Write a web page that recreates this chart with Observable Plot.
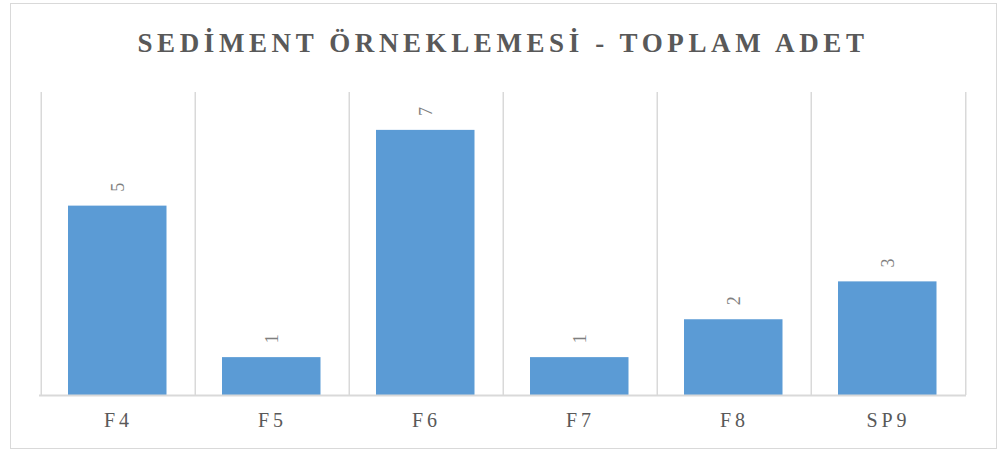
<!DOCTYPE html>
<html>
<head>
<meta charset="utf-8">
<script src="https://cdn.jsdelivr.net/npm/d3@7"></script>
<script src="https://cdn.jsdelivr.net/npm/@observablehq/plot@0.6"></script>
<style>
  html, body { margin: 0; padding: 0; background: #fff; }
  #wrap { position: relative; width: 1002px; height: 453px; }
  #border { position: absolute; left: 10px; top: 3px; width: 985px; height: 444px; border: 1.5px solid #d9d9d9; pointer-events: none; }
  .title text { letter-spacing: 4.6px; }
  .xaxis text { letter-spacing: 4px; }
</style>
</head>
<body>
<div id="wrap"><div id="border"></div></div>
<script>
const categories = ["F4", "F5", "F6", "F7", "F8", "SP9"];
const values = [5, 1, 7, 1, 2, 3];
const titleText = "SEDİMENT ÖRNEKLEMESİ - TOPLAM ADET";
const yMax = 8;

const data = categories.map((c, i) => ({cat: c, value: values[i]}));

const W = 1002, H = 453;
const mL = 39, mR = 36, mT = 92, mB = 58;
const bw = (W - mL - mR) / categories.length;

const chart = Plot.plot({
  width: W,
  height: H,
  marginLeft: mL,
  marginRight: mR,
  marginTop: mT,
  marginBottom: mB,
  style: {fontFamily: "'Liberation Serif', 'Times New Roman', serif", background: "transparent", color: "#595959"},
  x: {domain: categories, paddingInner: 0, paddingOuter: 0, label: null},
  y: {domain: [0, yMax], axis: null},
  marks: [
    Plot.ruleX(categories, {x: d => d, dx: -bw / 2, stroke: "#d9d9d9", strokeWidth: 1.5, strokeOpacity: 1}),
    Plot.ruleX(categories.slice(-1), {x: d => d, dx: bw / 2, stroke: "#d9d9d9", strokeWidth: 1.5, strokeOpacity: 1}),
    Plot.barY(data, {x: "cat", y: "value", fill: "#5B9BD5", insetLeft: 27, insetRight: 28.5}),
    Plot.ruleY([0], {stroke: "#d9d9d9", strokeWidth: 2}),
    Plot.text(data, {x: "cat", y: "value", text: d => String(d.value), rotate: -90, dy: -19, fontSize: 18, fill: "#7f7f7f"}),
    Plot.axisX({tickSize: 0, tickPadding: 17, fontSize: 20, className: "xaxis", fill: "#595959", label: null}),
    Plot.text([titleText], {frameAnchor: "top", lineAnchor: "middle", dy: -49, text: d => d, fontSize: 27, fontWeight: "bold", fill: "#595959", className: "title"})
  ]
});
document.getElementById("wrap").appendChild(chart);
chart.style.position = "absolute";
chart.style.left = "0px";
chart.style.top = "0px";
</script>
</body>
</html>
